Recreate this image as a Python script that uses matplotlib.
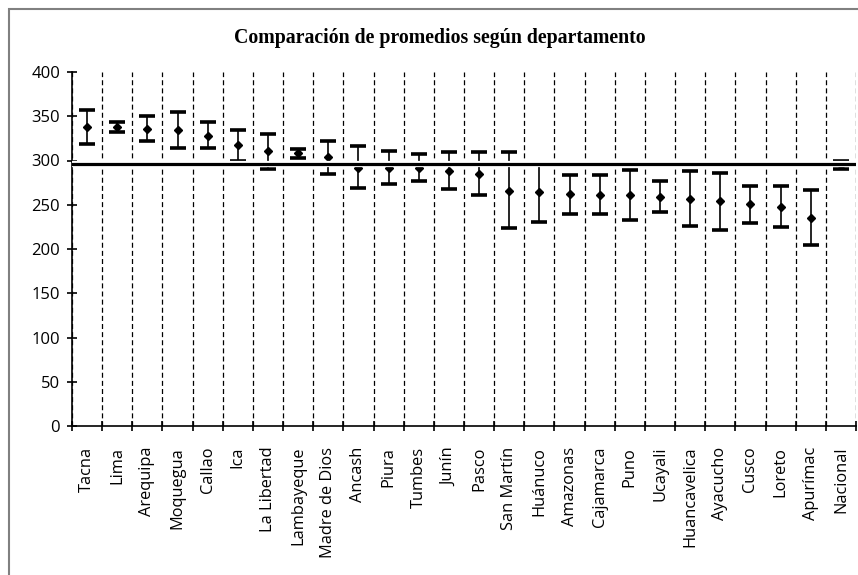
import numpy as np
import matplotlib
matplotlib.use("Agg")
import matplotlib.pyplot as plt
from matplotlib.patches import Rectangle

# departamentos y promedios (limite inferior / promedio / limite superior)
departamentos = ["Tacna", "Lima", "Arequipa", "Moquegua", "Callao", "Ica",
                 "La Libertad", "Lambayeque", "Madre de Dios", "Ancash", "Piura",
                 "Tumbes", "Junín", "Pasco", "San Martín", "Huánuco", "Amazonas",
                 "Cajamarca", "Puno", "Ucayali", "Huancavelica", "Ayacucho",
                 "Cusco", "Loreto", "Apurímac", "Nacional"]
promedio = [338, 338, 336, 335, 328, 317, 311, 309, 304, 292, 292, 291, 288,
            285, 266, 264, 262, 261, 261, 259, 257, 254, 251, 248, 235, 295]
limite_inf = [319, 332, 322, 314, 314, 299, 290, 303, 285, 269, 274, 277, 268,
              261, 224, 231, 240, 239, 233, 242, 226, 222, 229, 225, 204, 290]
limite_sup = [357, 344, 350, 355, 343, 334, 330, 313, 322, 316, 311, 307, 310,
              310, 310, 296, 284, 284, 289, 277, 288, 286, 271, 271, 267, 299]
promedio_nacional = 296.5

plt.rcParams['font.family'] = ['Open Sans', 'DejaVu Sans']

fig = plt.figure(figsize=(8.58, 5.75), dpi=100)
W, H = 858.0, 575.0

# marco exterior (gris)
fig.patches.append(Rectangle((9 / W, -0.1), 1.2, 1 - 9 / H + 0.1,
                             transform=fig.transFigure, fill=False,
                             edgecolor="#808080", linewidth=1.5))

ax = fig.add_axes([72 / W, 1 - 426 / H, (856 - 72) / W, (426 - 72) / H])

x = np.arange(len(departamentos))
prom = np.array(promedio)
err = [prom - np.array(limite_inf), np.array(limite_sup) - prom]

ax.errorbar(x, prom, yerr=err, fmt="D", color="black", markersize=4.5,
            elinewidth=1.2, capsize=5.5, capthick=2.6, zorder=3)

# linea del promedio nacional, con borde blanco
ax.axhline(promedio_nacional, color="white", linewidth=4.5, zorder=4)
ax.axhline(promedio_nacional, color="black", linewidth=2.3, zorder=5)

ax.set_xlim(-0.5, len(departamentos) - 0.5)
ax.set_ylim(0, 400)
ax.set_yticks(np.arange(0, 401, 50))

bordes = np.arange(len(departamentos) + 1) - 0.5
ax.set_xticks(bordes)
ax.set_xticklabels([])
ax.set_xticks(x, minor=True)
ax.set_xticklabels(departamentos, minor=True, rotation=90, fontsize=11.8)
ax.tick_params(axis="x", which="minor", length=0, pad=15)
ax.tick_params(axis="x", which="major", direction="inout", length=7, width=1.2)
ax.tick_params(axis="y", direction="inout", length=7, width=1.2, labelsize=12, pad=5)

ax.grid(axis="x", which="major", color="black", linestyle=(0, (4, 2.5)), linewidth=0.9)
ax.set_axisbelow(True)

for s in ["top", "right"]:
    ax.spines[s].set_visible(False)
ax.spines["left"].set_linewidth(1.2)
ax.spines["bottom"].set_linewidth(1.2)

fig.text(440 / W, 1 - 38 / H, "Comparación de promedios según departamento",
         ha="center", va="center", fontsize=14.3, fontweight="bold",
         family="Liberation Serif")

fig.savefig("out.png", dpi=100)
